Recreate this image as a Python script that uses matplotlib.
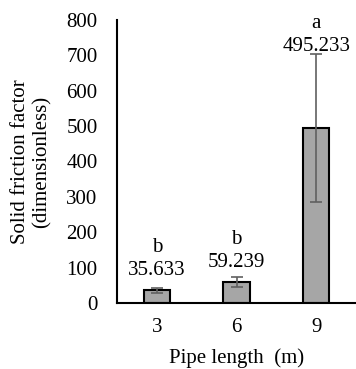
import matplotlib.pyplot as plt
import numpy as np

# pipe length categories and solid friction factor
lengths = ['3', '6', '9']
means = [35.633, 59.239, 495.233]
errs = [8, 15, 209]
letters = ['b', 'b', 'a']

plt.rcParams['font.family'] = ['Liberation Serif', 'DejaVu Serif']

fig = plt.figure(figsize=(3.56, 3.69), dpi=100)
ax = fig.add_axes([0.329, 0.179, 0.671, 0.767])

x = np.arange(len(lengths))
ax.bar(x, means, width=0.33, color='#a6a6a6', edgecolor='black', linewidth=1.5,
       yerr=errs, error_kw=dict(ecolor='#606060', elinewidth=1.2, capsize=4, capthick=1.2))

# value labels + letters above the error bars (offsets in points)
offsets = [12, 10.5, 5]
for xi, m, e, lt, off in zip(x, means, errs, letters, offsets):
    ax.annotate('%.3f' % m, (xi, m + e), xytext=(0, off), textcoords='offset points',
                ha='center', va='center', fontsize=15)
    ax.annotate(lt, (xi, m + e), xytext=(0, off + 16.5), textcoords='offset points',
                ha='center', va='center', fontsize=15)

ax.set_xlim(-0.5, 2.5)
ax.set_ylim(0, 800)
ax.set_yticks(range(0, 801, 100))
ax.set_xticks(x)
ax.set_xticklabels(lengths)
ax.tick_params(axis='both', length=0, labelsize=15)
ax.tick_params(axis='y', pad=14)
ax.tick_params(axis='x', pad=11)

for s in ['top', 'right']:
    ax.spines[s].set_visible(False)
for s in ['left', 'bottom']:
    ax.spines[s].set_linewidth(1.5)

ax.set_ylabel('Solid friction factor\n(dimensionless)', fontsize=15, labelpad=11, linespacing=1.15)
ax.set_xlabel('Pipe length  (m)', fontsize=15, labelpad=8)

fig.savefig('out.png', dpi=100)
